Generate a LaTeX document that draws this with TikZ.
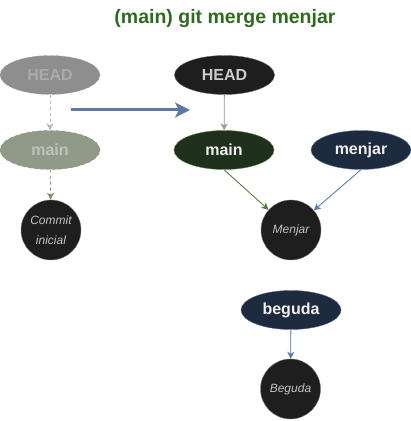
\documentclass[tikz,border=0pt]{standalone}
\usepackage{fontspec}
\setmainfont{Liberation Sans}
\usetikzlibrary{arrows.meta}
\definecolor{titlegreen}{HTML}{2E6B1C}
\definecolor{fadegray}{HTML}{8E8E8E}
\definecolor{fadegrayline}{HTML}{A6A6A6}
\definecolor{fadegraytext}{HTML}{AAAAAA}
\definecolor{fadegreen}{HTML}{8F9A89}
\definecolor{fadegreenline}{HTML}{7C9470}
\definecolor{fadegreentext}{HTML}{BEC2BA}
\definecolor{nodeblack}{HTML}{1E1E1E}
\definecolor{maingreen}{HTML}{1F301C}
\definecolor{maingreenline}{HTML}{4E7D38}
\definecolor{navy}{HTML}{1E2A3E}
\definecolor{navyline}{HTML}{5B7BAD}
\definecolor{bigblue}{HTML}{5A78A8}
\definecolor{headtext}{HTML}{CCCCCC}
\definecolor{committext}{HTML}{C4C4C4}
\tikzset{
  refbox/.style={ellipse, minimum width=100pt, minimum height=39pt, inner sep=0pt,
    font=\fontsize{16}{19}\selectfont\bfseries},
  commitbox/.style={circle, minimum size=60pt, inner sep=0pt, fill=nodeblack, draw=nodeblack!60,
    font=\fontsize{12}{20}\selectfont\itshape, text=committext, align=center},
  smallarrow/.style={-{Stealth[length=7pt,width=7pt,inset=2pt]}, line width=0.8pt},
}
\usetikzlibrary{shapes.geometric}
\begin{document}
\begin{tikzpicture}[x=1pt,y=1pt]
\useasboundingbox (0,0) rectangle (411,421);
\node[font=\fontsize{19.5}{23}\selectfont\bfseries, text=titlegreen] (title) at (225,402) {(main) git merge menjar};
% left (before)
\node[refbox, fill=fadegray, draw=fadegrayline, dashed, text=fadegraytext] (headL) at (50,346) {HEAD};
\node[refbox, fill=fadegreen, draw=fadegreenline, dashed, text=fadegreentext] (mainL) at (50,271) {main};
\node[commitbox] (commitL) at (51,191) {Commit\\inicial};
\draw[smallarrow, dashed, draw=fadegrayline!80, fill=white] (headL) -- (mainL);
\draw[smallarrow, dashed, draw=fadegreenline, fill=fadegreen!60] (mainL) -- (commitL);
% big arrow
\coordinate (bigS) at (71,311);
\coordinate (bigE) at (190,311);
\draw[bigblue, line width=3pt, -{Stealth[length=15pt,width=15pt,inset=4pt]}] (bigS) -- (bigE);
% right (after)
\node[refbox, fill=nodeblack, draw=nodeblack!70, text=headtext] (headR) at (224.5,346) {HEAD};
\node[refbox, fill=maingreen, draw=maingreenline, text=white!94!black] (mainR) at (224,271) {main};
\node[refbox, fill=navy, draw=navyline, text=white!94!black] (menjar) at (361,271) {menjar};
\node[commitbox] (menjarC) at (291,191) {Menjar};
\node[refbox, fill=navy, draw=navyline!80!black, text=white!94!black] (beguda) at (291,111) {beguda};
\node[commitbox] (begudaC) at (290.5,32) {Beguda};
\draw[smallarrow, draw=gray!80, fill=gray!80] (headR) -- (mainR);
\draw[smallarrow, draw=maingreenline, fill=maingreenline] (mainR.south) -- (menjarC);
\draw[smallarrow, draw=navyline, fill=navyline] (menjar.south) -- (menjarC);
\draw[smallarrow, draw=navyline, fill=navyline] (beguda) -- (begudaC);
\end{tikzpicture}
\end{document}
